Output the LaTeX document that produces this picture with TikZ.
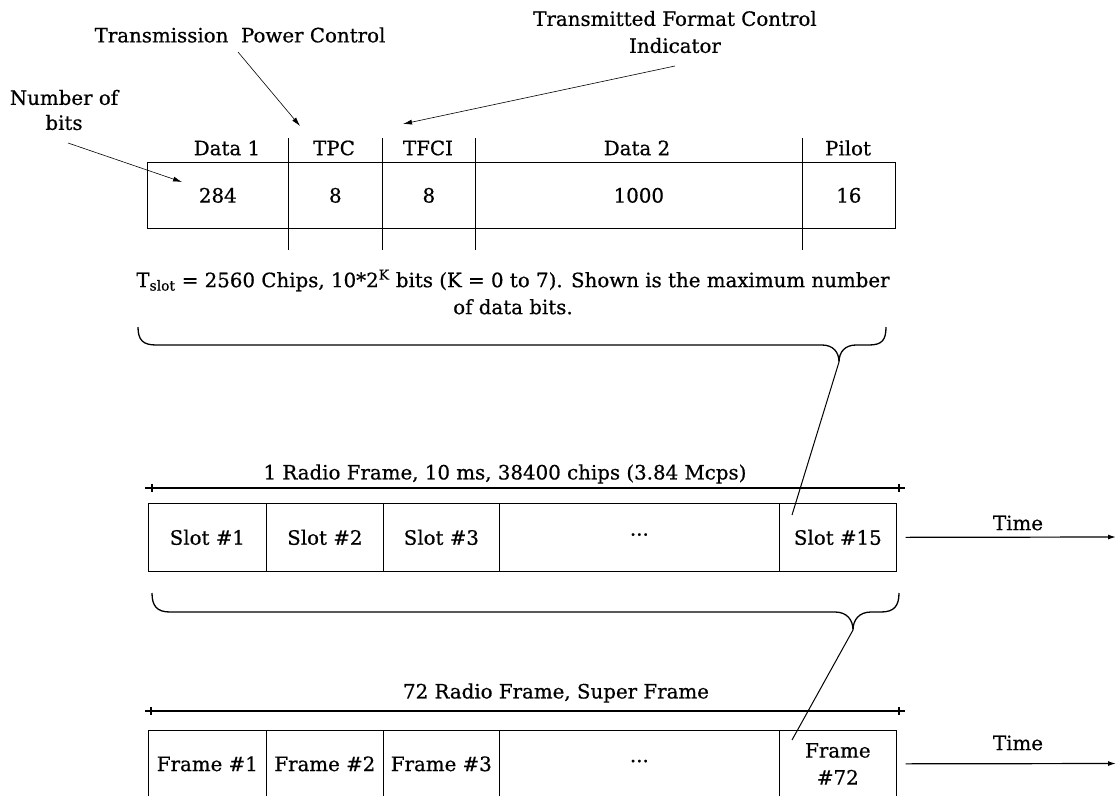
\documentclass[tikz,border=0pt]{standalone}
\usepackage{fontspec}
\setmainfont[FakeBold=0.6]{DejaVu Serif}
\usetikzlibrary{arrows.meta}
\begin{document}
\begin{tikzpicture}[x=1pt,y=-1pt,
  txt/.style={font=\fontsize{19.8}{27}\selectfont, inner sep=0pt, align=center},
  cell/.style={draw, line width=0.7pt, anchor=north west, inner sep=0pt,
               font=\fontsize{19.8}{27}\selectfont, align=center},
  divider/.style={line width=0.7pt},
  heavy/.style={line width=1.3pt},
  arr/.style={line width=0.6pt, -{Latex[length=9pt,width=5pt]}},
  timearr/.style={line width=1.2pt, -{Latex[length=8pt,width=5pt]}},
  link/.style={line width=1pt},
]
\useasboundingbox (0,0) rectangle (1116,795);
\clip (0,0) rectangle (1116,795);

% ---------- top labels ----------
\node[txt] (tpcl) at (240,35) {Transmission\ \ Power Control};
\node[txt] (tfcil) at (675,32) {Transmitted Format Control\\Indicator};
\node[txt, font=\fontsize{19.8}{25}\selectfont] (nbl) at (64,110) {Number of\\bits};

% ---------- slot content box ----------
\node[cell, minimum width=141pt, minimum height=66pt] (d1) at (147,162) {284};
\node[cell, minimum width=94pt,  minimum height=66pt] (tpc) at (288,162) {8};
\node[cell, minimum width=93pt,  minimum height=66pt] (tfci) at (382,162) {8};
\node[cell, minimum width=327pt, minimum height=66pt] (d2) at (475,162) {1000};
\node[cell, minimum width=93pt,  minimum height=66pt] (pil) at (802,162) {16};

\foreach \x in {288,382,475,802}{\draw[divider] (\x,138) -- (\x,250);}

\node[txt] (h1) at (227,148) {Data 1};
\node[txt] (h2) at (334,148) {TPC};
\node[txt] (h3) at (428,148) {TFCI};
\node[txt] (h4) at (637,148) {Data 2};
\node[txt] (h5) at (848,148) {Pilot};

% arrows from labels
\coordinate (tpcs) at (238,52);
\coordinate (tpce) at (300,126);
\coordinate (tfcis) at (675,66);
\coordinate (tfcie) at (403,124);
\coordinate (nbs) at (68,143);
\coordinate (nbe) at (182,182);
\draw[arr] (tpcs) -- (tpce);
\draw[arr] (tfcis) -- (tfcie);
\draw[arr] (nbs) -- (nbe);

% caption
\node[txt] (cap) at (513,292) {T\textsubscript{slot} = 2560 Chips, 10*2\textsuperscript{K} bits (K = 0 to 7). Shown is the maximum number\\of data bits.};

% top brace
\coordinate (b1tip) at (839,362);
\draw[heavy] (138,327) .. controls (138,340) and (143,345) .. (156,345) -- (822,345)
  .. controls (833,345) and (839,352) .. (b1tip)
  .. controls (839,352) and (845,345) .. (856,345) -- (869,345)
  .. controls (882,345) and (886,340) .. (886,327);

% ---------- radio frame ----------
\node[txt] (rfl) at (505,474) {1 Radio Frame, 10 ms, 38400 chips (3.84 Mcps)};
\draw[heavy] (145,488) -- (905,488);
\draw[heavy] (152,484) -- (152,492);
\draw[heavy] (899,484) -- (899,492);

\node[cell, minimum width=118pt, minimum height=68pt] (s1) at (148,503) {Slot \#1};
\node[cell, minimum width=117pt, minimum height=68pt] (s2) at (266,503) {Slot \#2};
\node[cell, minimum width=116pt, minimum height=68pt] (s3) at (383,503) {Slot \#3};
\node[cell, minimum width=280pt, minimum height=68pt] (sd) at (499,503) {\raisebox{-2pt}{···}};
\node[cell, minimum width=117pt, minimum height=68pt] (s15) at (779,503) {Slot \#15};

\draw[link] (b1tip) -- ([shift={(13,12)}]s15.north west);

\node[txt] (time1) at (1018,523) {Time};
\draw[timearr] ([xshift=9pt]s15.east) -- (1116,537);

% lower brace
\coordinate (b2tip) at (853,630);
\draw[heavy] (152,593) .. controls (152,606) and (157,612) .. (170,612) -- (835,612)
  .. controls (847,612) and (853,620) .. (b2tip)
  .. controls (853,620) and (859,612) .. (871,612) -- (881,612)
  .. controls (894,612) and (899,606) .. (899,593);

% ---------- super frame ----------
\node[txt] (sfl) at (556,693) {72 Radio Frame, Super Frame};
\draw[heavy] (145,711) -- (905,711);
\draw[heavy] (151,707) -- (151,715);
\draw[heavy] (899,707) -- (899,715);

\node[cell, minimum width=118pt, minimum height=67pt] (f1) at (148,730) {Frame \#1};
\node[cell, minimum width=117pt, minimum height=67pt] (f2) at (266,730) {Frame \#2};
\node[cell, minimum width=116pt, minimum height=67pt] (f3) at (383,730) {Frame \#3};
\node[cell, minimum width=280pt, minimum height=67pt] (fd) at (499,730) {\raisebox{-2pt}{···}};
\node[cell, minimum width=117pt, minimum height=67pt] (f72) at (779,730) {Frame\\\#72};

\draw[link] (b2tip) -- ([shift={(13,10)}]f72.north west);

\node[txt] (time2) at (1018,743) {Time};
\draw[timearr] ([xshift=9pt]f72.east) -- (1116,763.5);
\end{tikzpicture}
\end{document}
